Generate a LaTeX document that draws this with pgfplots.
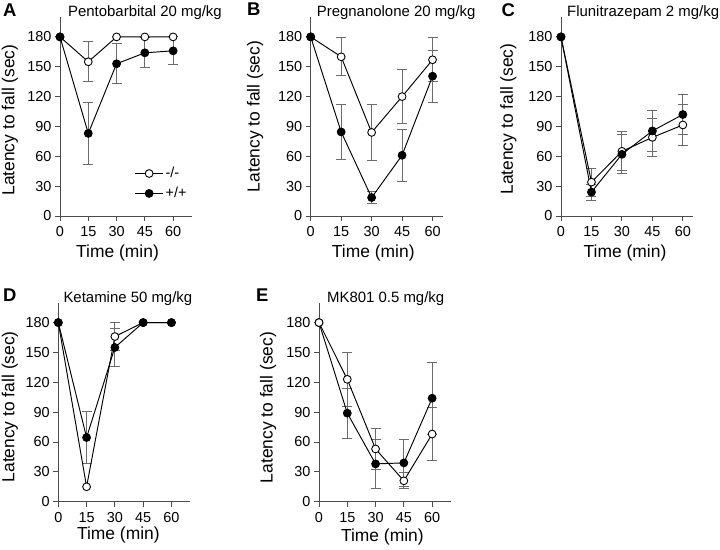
\documentclass[border=0pt]{standalone}
\usepackage{fontspec}
\setmainfont{Liberation Sans}
\usepackage{pgfplots}
\pgfplotsset{compat=1.18}
\definecolor{axgray}{gray}{0.3}
\definecolor{errgray}{gray}{0.42}
\pgfplotsset{
  panel/.style={
    scale only axis, width=132bp, height=199bp,
    xmin=0, ymin=0, ymax=200,
    axis x line*=bottom, axis y line*=left,
    axis line style={axgray, line width=0.9bp, -},
    xtick={0,15,30,45,60}, ytick={0,30,60,90,120,150,180},
    tick align=outside, major tick length=5bp,
    tick style={axgray, line width=0.9bp},
    /pgf/number format/assume math mode=true,
    tick label style={font=\fontsize{14.5}{16}\selectfont},
    xticklabel style={yshift=-2bp},
    label style={font=\fontsize{17.5}{20}\selectfont},
    xlabel={Time (min)}, ylabel={Latency to fall (sec)},
    clip=false,
  },
  dat/.style={black, line width=0.95bp, mark=*, mark size=3.9bp},
  opn/.style={dat, mark options={fill=white, draw=black, line width=0.9bp}},
  fil/.style={dat, mark options={fill=black, draw=black}},
  eb/.style={draw=none, mark=none, forget plot,
    /pgfplots/error bars/y dir=both, /pgfplots/error bars/y explicit,
    /pgfplots/error bars/error bar style={draw=errgray, line width=0.9bp},
    /pgfplots/error bars/error mark options={rotate=90, draw=errgray, mark size=5bp, line width=0.9bp}},
}
\tikzset{
  ttl/.style={anchor=base west, inner sep=0pt, font=\fontsize{15}{17}\selectfont},
  lett/.style={anchor=base west, inner sep=0pt, font=\fontsize{18.5}{20}\selectfont\bfseries},
}
\begin{document}
\begin{tikzpicture}
\path[use as bounding box] (0,0) rectangle (720bp,550bp);
\node[lett] at (3bp,533bp) {A};
\node[lett] at (247bp,534bp) {B};
\node[lett] at (501.5bp,533.5bp) {C};
\node[lett] at (3bp,248bp) {D};
\node[lett] at (256bp,248bp) {E};

% ---------------- A
\begin{axis}[panel, at={(60bp,334bp)}, anchor=south west, xmax=70,
  xlabel style={at={(axis description cs:0.436,-0.21)}, anchor=base},
  ylabel style={at={(axis description cs:-0.379,0.482)}, anchor=center},
  legend style={draw=none, fill=none, at={(axis cs:39.5,32.7)}, anchor=west,
    font=\fontsize{14.5}{16}\selectfont, row sep=4bp, inner sep=0pt},
  legend cell align=left,
  legend image code/.code={\draw[mark repeat=2,mark phase=2,#1] plot coordinates {(0bp,0bp) (14bp,0bp) (28bp,0bp)};}]
\addplot[eb] table[x=x,y=y,y error=e] {
x y e
15 155 20
};
\addplot[eb] table[x=x,y=y,y error=e] {
x y e
15 83 31
30 153 20
45 164 15
60 166 14
};
\addplot[opn] table {
0 180
15 155
30 180
45 180
60 180
};
\addlegendentry{-/-}
\addplot[fil] table {
0 180
15 83
30 153
45 164
60 166
};
\addlegendentry{+/+}
\node[ttl] at (rel axis cs:0.06,1) {Pentobarbital 20 mg/kg};
\end{axis}

% ---------------- B
\begin{axis}[panel, at={(310.7bp,334bp)}, anchor=south west, xmax=65,
  xlabel style={at={(axis description cs:0.474,-0.21)}, anchor=base},
  ylabel style={at={(axis description cs:-0.422,0.5)}, anchor=center}]
\addplot[eb] table[x=x,y=y,y error=e] {
x y e
15 160 19
30 84 28
45 120 27
60 157 22
};
\addplot[eb] table[x=x,y=y,y error=e] {
x y e
15 84.5 28
30 18.5 6
45 61 26
60 140.5 26
};
\addplot[opn] table {
0 180
15 160
30 84
45 120
60 157
};
\addplot[fil] table {
0 180
15 84.5
30 18.5
45 61
60 140.5
};
\node[ttl] at (rel axis cs:0.045,1) {Pregnanolone 20 mg/kg};
\end{axis}

% ---------------- C
\begin{axis}[panel, at={(561bp,334bp)}, anchor=south west, xmax=65,
  xlabel style={at={(axis description cs:0.485,-0.21)}, anchor=base},
  ylabel style={at={(axis description cs:-0.398,0.487)}, anchor=center}]
\addplot[eb] table[x=x,y=y,y error=e] {
x y e
15 34 14
30 65 19.5
45 79 19.5
60 91.5 21
};
\addplot[eb] table[x=x,y=y,y error=e] {
x y e
15 24 8
30 62 19.5
45 85.5 21
60 102 20
};
\addplot[opn] table {
0 180
15 34
30 65
45 79
60 91.5
};
\addplot[fil] table {
0 180
15 24
30 62
45 85.5
60 102
};
\node[ttl] at (rel axis cs:0.045,1) {Flunitrazepam 2 mg/kg};
\end{axis}

% ---------------- D
\begin{axis}[panel, at={(58.3bp,48.3bp)}, anchor=south west, xmax=70,
  xlabel style={at={(axis description cs:0.455,-0.192)}, anchor=base},
  ylabel style={at={(axis description cs:-0.366,0.477)}, anchor=center}]
\addplot[eb] table[x=x,y=y,y error=e] {
x y e
30 166 14
};
\addplot[eb] table[x=x,y=y,y error=e] {
x y e
15 64.5 26
30 155 19.5
};
\addplot[opn] table {
0 180
15 15
30 166
45 180
60 180
};
\addplot[fil] table {
0 180
15 64.5
30 155
45 180
60 180
};
\node[ttl] at (rel axis cs:0.038,1) {Ketamine 50 mg/kg};
\end{axis}

% ---------------- E
\begin{axis}[panel, at={(319bp,48.3bp)}, anchor=south west, xmax=70,
  xlabel style={at={(axis description cs:0.48,-0.201)}, anchor=base},
  ylabel style={at={(axis description cs:-0.386,0.473)}, anchor=center}]
\addplot[eb] table[x=x,y=y,y error=e] {
x y e
15 89 25
30 38 24.5
45 39 24
60 104 36
};
\addplot[eb] table[x=x,y=y,y error=e] {
x y e
15 123 27
30 53 21
45 21 8
60 68 27
};
\addplot[fil] table {
0 180
15 89
30 38
45 39
60 104
};
\addplot[opn] table {
0 180
15 123
30 53
45 21
60 68
};
\node[ttl] at (rel axis cs:0.06,1) {MK801 0.5 mg/kg};
\end{axis}
\end{tikzpicture}
\end{document}
